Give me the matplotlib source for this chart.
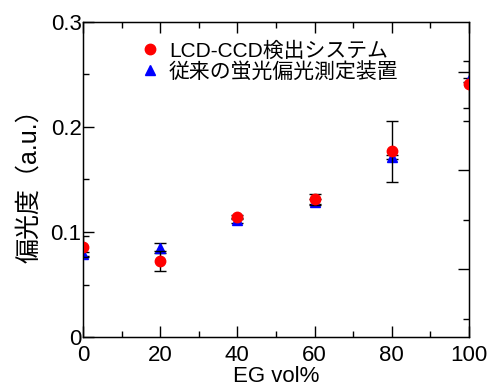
import matplotlib
matplotlib.use("Agg")
import matplotlib.pyplot as plt
from matplotlib.ticker import MultipleLocator, FuncFormatter
from matplotlib.lines import Line2D

plt.rcParams['font.family'] = ['Liberation Sans', 'Noto Sans CJK JP']

# EG volume fraction (%)
eg = [0, 20, 40, 60, 80, 100]

# LCD-CCD detection system
lcd = [0.086, 0.0727, 0.1146, 0.131, 0.177, 0.2405]
lcd_err = [0.010, 0.0095, 0.002, 0.0055, 0.029, 0.022]

# conventional fluorescence polarization device
conv = [0.079, 0.0845, 0.111, 0.129, 0.1717, 0.2448]
conv_err = [0.002, 0.0048, 0.002, 0.002, 0.002, 0.002]

labels = ['LCD-CCD検出システム', '従来の蛍光偏光測定装置']

fig = plt.figure(figsize=(4.91, 3.91), dpi=100)
ax = fig.add_axes([0.169, 0.138, 0.786, 0.806])

ax.errorbar(eg, conv, yerr=conv_err, fmt='^', color='blue', ms=7,
            ecolor='black', elinewidth=1, capsize=4, capthick=1, zorder=3)
ax.errorbar(eg, lcd, yerr=lcd_err, fmt='o', color='red', ms=7.5,
            ecolor='black', elinewidth=1, capsize=4, capthick=1, zorder=4)

ax.set_xlim(0, 100)
ax.set_ylim(0, 0.3)
ax.xaxis.set_major_locator(MultipleLocator(20))
ax.xaxis.set_minor_locator(MultipleLocator(10))
ax.yaxis.set_major_locator(MultipleLocator(0.1))
ax.yaxis.set_minor_locator(MultipleLocator(0.05))
ax.yaxis.set_major_formatter(FuncFormatter(lambda v, p: '0' if abs(v) < 1e-9 else f'{v:.1f}'))
ax.tick_params(which='both', direction='in', top=True, right=False, labelsize=16)
ax.tick_params(which='major', length=8, width=1)
ax.tick_params(which='minor', length=4, width=1)
ax.tick_params(axis='y', pad=1)
ax.tick_params(axis='x', pad=6)
for s in ax.spines.values():
    s.set_linewidth(1)

ax2 = ax.twinx()
ax2.set_ylim(0.0314, 0.3504)
ax2.set_yticks([0.1, 0.2, 0.3])
ax2.set_yticks([0.05, 0.15, 0.25], minor=True)
ax2.tick_params(which='both', direction='in', labelright=False)
ax2.tick_params(which='major', length=8, width=1)
ax2.tick_params(which='minor', length=4, width=1)

ax.set_xlabel('EG vol%', fontsize=16, labelpad=0)
ax.set_ylabel('偏光度（a.u.）', fontsize=18, labelpad=7)

handles = [Line2D([], [], ls='none', marker='o', color='red', ms=7.5),
           Line2D([], [], ls='none', marker='^', color='blue', ms=7)]
ax.legend(handles, labels, loc='upper left', bbox_to_anchor=(0.12, 0.965),
          frameon=False, fontsize=15, handletextpad=0.3, labelspacing=0.05,
          handlelength=1.2, borderaxespad=0)

fig.savefig('out.png', dpi=100)
